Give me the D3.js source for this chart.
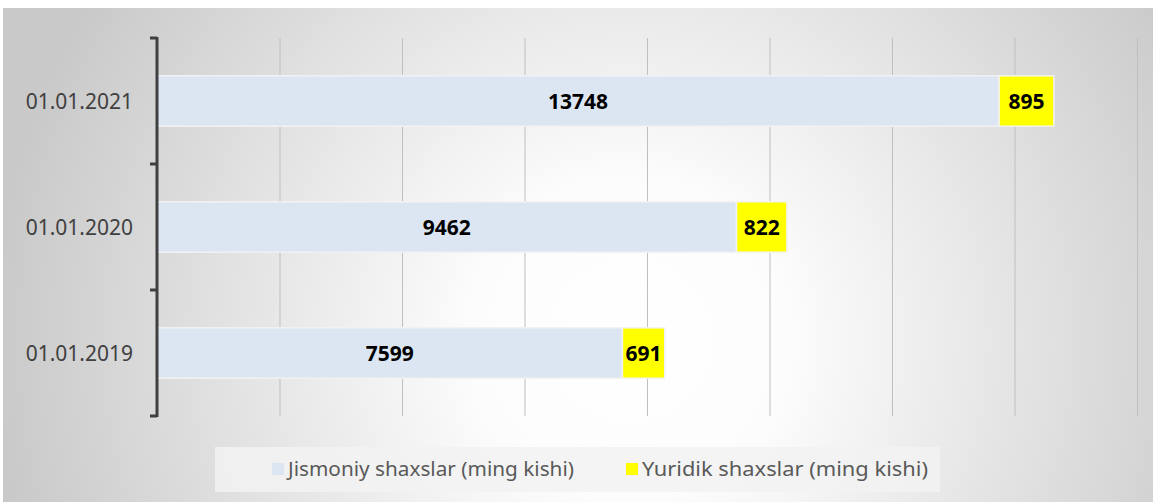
<!DOCTYPE html>
<html>
<head>
<meta charset="utf-8">
<script src="https://cdn.jsdelivr.net/npm/d3@7"></script>
<style>
  body { margin: 0; background: #fff; }
  svg { display: block; }
</style>
</head>
<body>
<div id="chart"></div>
<script>
var categories = ["01.01.2021", "01.01.2020", "01.01.2019"],
	jismoniy = [13748, 9462, 7599],
	yuridik = [895, 822, 691],
	seriesNames = ["Jismoniy shaxslar (ming kishi)", "Yuridik shaxslar (ming kishi)"],
	seriesColors = ["#dce6f2", "#ffff00"],
	xTicks = [0, 2000, 4000, 6000, 8000, 10000, 12000, 14000, 16000];

var width = 1153,
	height = 502;

var svg = d3.select("#chart")
	.append("svg")
	.attr("width", width)
	.attr("height", height);

// chart area background
var defs = svg.append("defs");
var grad = defs.append("radialGradient")
	.attr("id", "bg")
	.attr("gradientUnits", "userSpaceOnUse")
	.attr("cx", 630).attr("cy", 340).attr("r", 640);
grad.append("stop").attr("offset", "0%").attr("stop-color", "#ffffff");
grad.append("stop").attr("offset", "25%").attr("stop-color", "#fcfcfc");
grad.append("stop").attr("offset", "100%").attr("stop-color", "#c9c9c9");

svg.append("rect")
	.attr("x", 3).attr("y", 8)
	.attr("width", width - 3).attr("height", height - 8)
	.style("fill", "url(#bg)");

var x = d3.scaleLinear()
	.domain([0, 16000])
	.range([157, 1137]);

var y = d3.scaleBand()
	.domain(categories)
	.range([38, 416])
	.paddingInner(0.6)
	.paddingOuter(0.3);

// gridlines
svg.append("g")
	.selectAll("line")
	.data(xTicks.slice(1))
	.enter().append("line")
	.attr("x1", function(d) { return x(d) + 0.5; })
	.attr("x2", function(d) { return x(d) + 0.5; })
	.attr("y1", 38)
	.attr("y2", 416)
	.style("stroke", "#bfbfbf")
	.style("stroke-width", 1);

// bars
var rows = categories.map(function(c, i) {
	return { cat: c, a: jismoniy[i], b: yuridik[i] };
});

var barGroup = svg.append("g");
rows.forEach(function(row) {
	barGroup.append("rect")
		.attr("x", x(0))
		.attr("y", y(row.cat))
		.attr("width", x(row.a) - x(0))
		.attr("height", y.bandwidth())
		.style("fill", seriesColors[0])
		.style("stroke", "#f2f2f2")
		.style("stroke-width", 1.5);
	barGroup.append("rect")
		.attr("x", x(row.a))
		.attr("y", y(row.cat))
		.attr("width", x(row.a + row.b) - x(row.a))
		.attr("height", y.bandwidth())
		.style("fill", seriesColors[1])
		.style("stroke", "#f2f2f2")
		.style("stroke-width", 1.5);

	barGroup.append("text")
		.attr("x", (x(0) + x(row.a)) / 2)
		.attr("y", y(row.cat) + y.bandwidth() / 2)
		.attr("dy", "0.36em")
		.attr("text-anchor", "middle")
		.style("font-family", "'Noto Sans', sans-serif")
		.style("font-weight", "bold")
		.style("font-size", "21px")
		.style("fill", "#000")
		.text(row.a);
	barGroup.append("text")
		.attr("x", (x(row.a) + x(row.a + row.b)) / 2)
		.attr("y", y(row.cat) + y.bandwidth() / 2)
		.attr("dy", "0.36em")
		.attr("text-anchor", "middle")
		.style("font-family", "'Noto Sans', sans-serif")
		.style("font-weight", "bold")
		.style("font-size", "21px")
		.style("fill", "#000")
		.text(row.b);
});

// category axis
var axisColor = "#404040";
svg.append("line")
	.attr("x1", x(0)).attr("x2", x(0))
	.attr("y1", 37).attr("y2", 417)
	.style("stroke", axisColor)
	.style("stroke-width", 3);

var boundaries = categories.map(function(c) {
	return y(c) - y.step() * y.paddingInner() / 2;
});
boundaries[0] = 38;
boundaries.push(416);

svg.append("g")
	.selectAll("line")
	.data(boundaries)
	.enter().append("line")
	.attr("x1", x(0) - 7)
	.attr("x2", x(0))
	.attr("y1", function(d) { return d; })
	.attr("y2", function(d) { return d; })
	.style("stroke", axisColor)
	.style("stroke-width", 3);

svg.append("g")
	.selectAll("text")
	.data(categories)
	.enter().append("text")
	.attr("x", 133)
	.attr("y", function(d) { return y(d) + y.bandwidth() / 2; })
	.attr("dy", "0.36em")
	.attr("text-anchor", "end")
	.style("font-family", "'Noto Sans', sans-serif")
	.style("font-size", "21px")
	.style("fill", "#404040")
	.text(function(d) { return d; });

// legend
svg.append("rect")
	.attr("x", 215).attr("y", 447)
	.attr("width", 725).attr("height", 45)
	.style("fill", "#f2f2f2")
	.style("fill-opacity", 0.85);

var legendX = [272, 626];
var legend = svg.append("g")
	.selectAll("g")
	.data(seriesNames)
	.enter().append("g")
	.attr("transform", function(d, i) { return "translate(" + legendX[i] + ",469)"; });

legend.append("rect")
	.attr("x", 0).attr("y", -6)
	.attr("width", 12).attr("height", 12)
	.style("fill", function(d, i) { return seriesColors[i]; });

legend.append("text")
	.attr("x", 16)
	.attr("dy", "0.36em")
	.style("font-family", "'Noto Sans', sans-serif")
	.style("font-size", "20px")
	.style("fill", "#595959")
	.attr("textLength", 286)
	.attr("lengthAdjust", "spacingAndGlyphs")
	.text(function(d) { return d; });
</script>
</body>
</html>
